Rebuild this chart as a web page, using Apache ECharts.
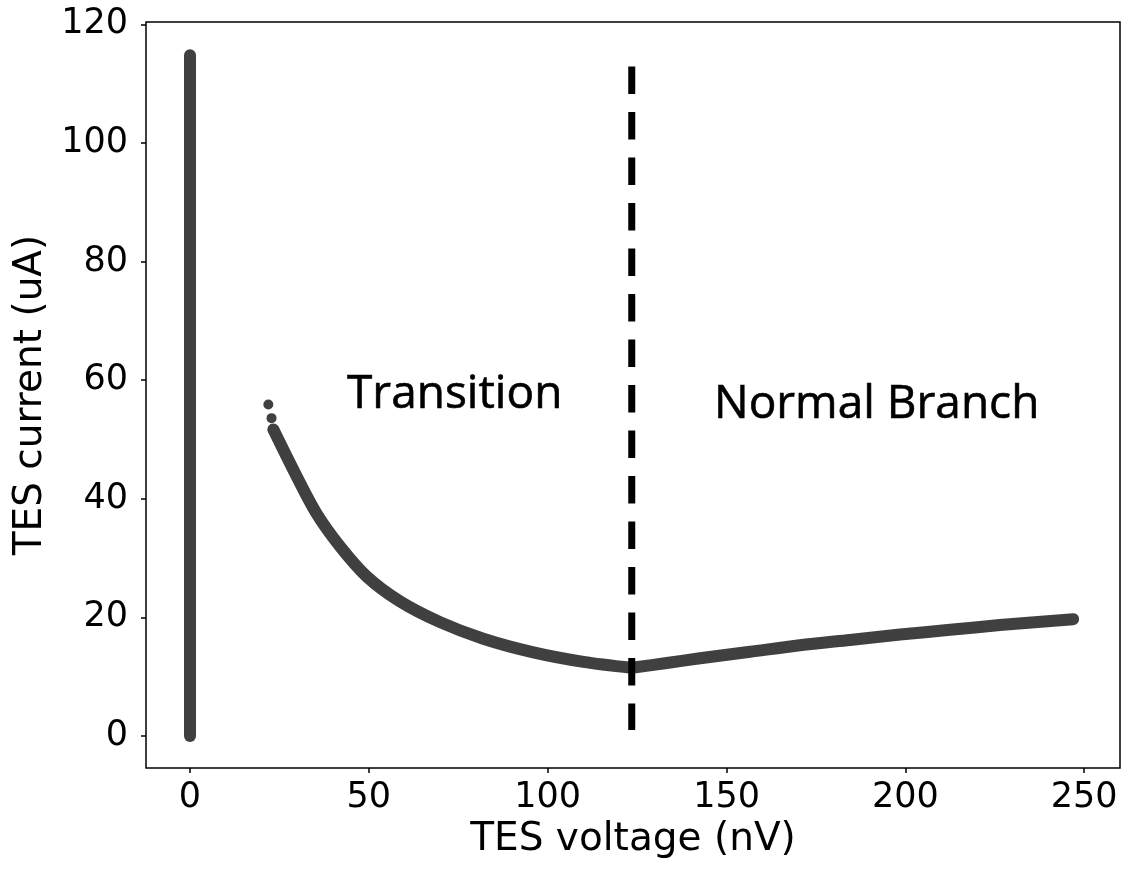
<!DOCTYPE html>
<html>
<head>
<meta charset="utf-8">
<script src="https://cdn.jsdelivr.net/npm/echarts@6/dist/echarts.min.js"></script>
<style>
  html, body { margin: 0; padding: 0; background: #ffffff; }
  #chart { width: 1127px; height: 869px; }
</style>
</head>
<body>
<div id="chart"></div>
<script>
// TES I-V sweep: voltage in nV, current in uA
const superconductingBranch = [[0, 0], [0, 114.8]];
const transitionOutliers = [[21.9, 55.9], [22.8, 53.6]];
const transitionBranch = [
  [23.3, 51.7], [29.8, 43.8], [35.4, 37.5], [41.9, 32.0], [49.4, 26.9],
  [58.7, 22.7], [69.9, 19.2], [82.0, 16.4], [96.0, 14.1], [110.0, 12.5],
  [123.5, 11.5]
];
const normalBranch = [
  [123.5, 11.5], [133.3, 12.3], [142.6, 13.1], [156.6, 14.2], [170.5, 15.3],
  [184.5, 16.2], [198.5, 17.1], [212.5, 17.9], [226.4, 18.7], [246.9, 19.7]
];
// boundary between transition and normal regimes
const boundaryVoltage = 123.5;
const boundarySpan = [112.9, 1.0];

const xTicks = [0, 50, 100, 150, 200, 250];
const yTicks = [0, 20, 40, 60, 80, 100, 120];

const regionNames = ['Transition', 'Normal Branch'];
const regionAnchors = [[43.9, 57.6], [146.5, 55.9]];

const curveColor = '#404040';
const axisFont = 'DejaVu Sans';

const chart = echarts.init(document.getElementById('chart'), null, { renderer: 'canvas' });

const boundaryData = boundarySpan.map(i => [boundaryVoltage, i]);
const regionData = regionNames.map((name, k) => ({
  name: name,
  value: regionAnchors[k]
}));

chart.setOption({
  animation: false,
  backgroundColor: '#ffffff',
  grid: {
    left: 146, right: 7, top: 22, bottom: 101,
    show: true,
    borderColor: '#000000',
    borderWidth: 1.5,
    backgroundColor: 'transparent'
  },
  xAxis: {
    type: 'value',
    min: -12.3,
    max: 260.0,
    name: 'TES voltage (nV)',
    nameLocation: 'middle',
    nameGap: 50,
    nameTextStyle: { fontFamily: axisFont, fontSize: 39, color: '#000' },
    axisLine: { show: false, onZero: false },
    splitLine: { show: false },
    axisTick: {
      show: true, length: 5, inside: false,
      customValues: xTicks,
      lineStyle: { color: '#000', width: 1.5 }
    },
    axisLabel: {
      customValues: xTicks,
      margin: 12,
      fontFamily: axisFont, fontSize: 35, color: '#000'
    }
  },
  yAxis: {
    type: 'value',
    min: -5.4,
    max: 120.4,
    name: 'TES current (uA)',
    nameLocation: 'middle',
    nameGap: 96,
    nameTextStyle: { fontFamily: axisFont, fontSize: 39, color: '#000' },
    axisLine: { show: false, onZero: false },
    splitLine: { show: false },
    axisTick: {
      show: true, length: 5, inside: false,
      customValues: yTicks,
      lineStyle: { color: '#000', width: 1.5 }
    },
    axisLabel: {
      customValues: yTicks,
      margin: 18,
      fontFamily: axisFont, fontSize: 35, color: '#000'
    }
  },
  series: [
    {
      name: 'superconducting',
      type: 'line',
      data: superconductingBranch,
      showSymbol: false,
      lineStyle: { color: curveColor, width: 12, cap: 'round' },
      z: 2
    },
    {
      name: 'transition start',
      type: 'scatter',
      data: transitionOutliers,
      symbolSize: 10,
      itemStyle: { color: curveColor, opacity: 1 },
      z: 2
    },
    {
      name: 'transition',
      type: 'line',
      data: transitionBranch,
      showSymbol: false,
      smooth: 0.3,
      lineStyle: { color: curveColor, width: 12, cap: 'round', join: 'round' },
      z: 2
    },
    {
      name: 'normal',
      type: 'line',
      data: normalBranch,
      showSymbol: false,
      smooth: 0.3,
      lineStyle: { color: curveColor, width: 12, cap: 'round', join: 'round' },
      z: 2
    },
    {
      name: 'boundary',
      type: 'line',
      data: boundaryData,
      showSymbol: false,
      lineStyle: { color: '#000000', width: 7, type: [27.5, 18], cap: 'butt' },
      z: 3
    },
    {
      name: 'regions',
      type: 'scatter',
      data: regionData,
      symbolSize: 0,
      itemStyle: { color: 'transparent', opacity: 1 },
      label: {
        show: true,
        position: [0, 0],
        align: 'left',
        verticalAlign: 'middle',
        formatter: p => p.name,
        fontFamily: 'Open Sans',
        fontSize: 46,
        color: '#000',
        opacity: 1,
        textBorderColor: '#000',
        textBorderWidth: 0.6
      },
      z: 4
    }
  ]
});
</script>
</body>
</html>
